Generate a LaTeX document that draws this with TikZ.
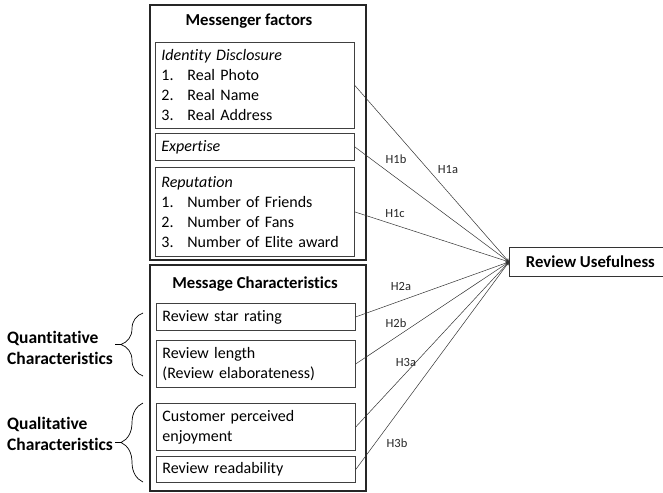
\documentclass[tikz,border=0pt]{standalone}
\usepackage{fontspec}
\setmainfont{Carlito}[Ligatures=NoCommon]
\usetikzlibrary{decorations.pathreplacing}

\tikzset{
	inbox/.style={draw=black!75, line width=0.8pt, anchor=north west, align=left,
		text width=187pt, inner xsep=6pt, inner ysep=0pt, font=\fontsize{16}{20}\selectfont},
	outbox/.style={draw=black!85, line width=1.6pt},
	titlelab/.style={font=\bfseries\fontsize{16.7}{19}\selectfont},
	sidelab/.style={font=\bfseries\fontsize{17.5}{21}\selectfont, align=left, anchor=west, inner sep=2pt},
	hlab/.style={font=\fontsize{12.5}{14}\selectfont, text=black!85},
	conn/.style={->, draw=black!80, line width=0.5pt},
	brc/.style={decorate, decoration={brace, amplitude=22pt, aspect=0.5}, line width=0.7pt},
}
\newcommand{\itm}[1]{\makebox[26pt][l]{#1}}

\begin{document}
\begin{tikzpicture}[>=stealth, x=1pt, y=-1pt]
	\useasboundingbox (0,0) rectangle (663,492);
	%Khung Messenger factors
	\draw[outbox] (150,5) rectangle (366,260);
	\node[titlelab] (msgrt) at (249,21) {Messenger factors};
	\node[inbox, minimum height=86pt] (idbox) at (155,42)
		{\textit{Identity Disclosure}\\ \itm{1.}Real Photo\\ \itm{2.}Real Name\\ \itm{3.}Real Address};
	\node[inbox, minimum height=27pt] (expbox) at (155,133) {\textit{Expertise}};
	\node[inbox, minimum height=89pt] (repbox) at (155,167)
		{\textit{Reputation}\\ \itm{1.}Number of Friends\\ \itm{2.}Number of Fans\\ \itm{3.}Number of Elite award};
	%Khung Message Characteristics
	\draw[outbox] (150,265) rectangle (366,491);
	\node[titlelab] (msgt) at (255,284) {Message Characteristics};
	\node[inbox, minimum height=27pt] (starbox) at (156,303) {Review star rating};
	\node[inbox, minimum height=47pt] (lenbox) at (156,340) {Review length\\(Review elaborateness)};
	\node[inbox, minimum height=47pt] (enjbox) at (156,403) {Customer perceived\\enjoyment};
	\node[inbox, minimum height=26pt] (readbox) at (156,456) {Review readability};
	%Ket qua
	\node[draw=black!80, line width=0.8pt, anchor=north west, minimum width=155pt, minimum height=29pt,
		titlelab] (ru) at (509,247) {\hspace{7pt}Review Usefulness};
	%Mui ten
	\draw[conn] (idbox.east) -- (ru.west);
	\draw[conn] (expbox.east) -- (ru.west);
	\draw[conn] (repbox.east) -- (ru.west);
	\draw[conn] (starbox.east) -- (ru.west);
	\draw[conn] (lenbox.east) -- (ru.west);
	\draw[conn] (enjbox.east) -- (ru.west);
	\draw[conn] (readbox.east) -- (ru.west);
	%Nhan
	\node[hlab] (h1a) at (448,170) {H1a};
	\node[hlab] (h1b) at (396,159) {H1b};
	\node[hlab] (h1c) at (395,214) {H1c};
	\node[hlab] (h2a) at (401,286) {H2a};
	\node[hlab] (h2b) at (396,323) {H2b};
	\node[hlab] (h3a) at (406,362) {H3a};
	\node[hlab] (h3b) at (397,443) {H3b};
	%Ngoac
	\draw[brc] (143,376) -- (143,313);
	\coordinate (qntip) at (121,344.5);
	\node[sidelab] (qnlab) at (5,348) {Quantitative\\Characteristics};
	\draw[line width=1.8pt] (qnlab.east |- qntip) -- (qntip);
	\draw[brc] (143,482) -- (143,403);
	\coordinate (qltip) at (121,442.5);
	\node[sidelab] (qllab) at (5,434) {Qualitative\\Characteristics};
	\draw[line width=1.8pt] (qllab.east |- qltip) -- (qltip);
\end{tikzpicture}
\end{document}
